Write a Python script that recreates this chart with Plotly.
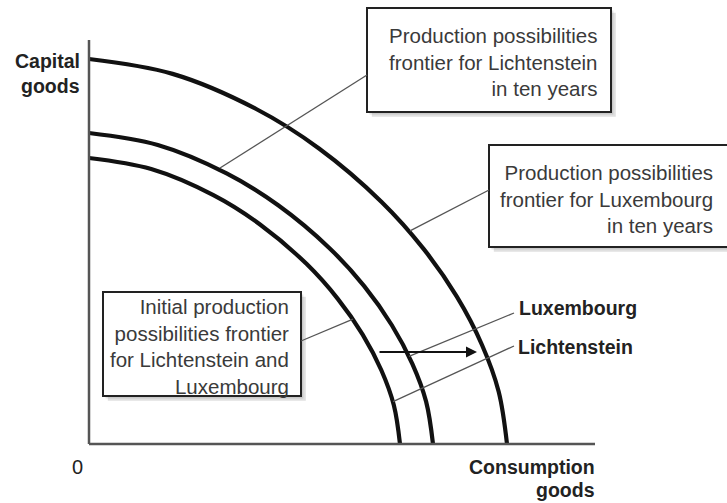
import plotly.graph_objects as go

# Production possibilities frontiers (consumption goods, capital goods), arbitrary units
initial_x = [0, 15.55, 31.1, 42.76, 54.43, 62.2, 68.42, 73.09, 76.2, 77.75]
initial_y = [71.5, 68.74, 62.21, 54.89, 44.97, 36.29, 27.36, 18.44, 9.75, 0]

lich10_x = [0, 17.2, 34.4, 47.3, 60.2, 68.8, 75.68, 80.84, 84.28, 86]
lich10_y = [77.75, 74.75, 67.65, 59.69, 48.9, 39.46, 29.75, 20.05, 10.6, 0]

lux10_x = [0, 20.9, 41.8, 57.5, 73.15, 83.6, 91.96, 98.23, 102.41, 104.5]
lux10_y = [96.25, 92.53, 83.75, 73.89, 60.53, 48.85, 36.83, 24.82, 13.13, 0]

axis_x_max = 126.5
axis_y_max = 101

box_texts = [
    "Production possibilities<br>frontier for Lichtenstein<br>in ten years",
    "Production possibilities<br>frontier for Luxembourg<br>in ten years",
    "Initial production<br>possibilities frontier<br>for Lichtenstein and<br>Luxembourg",
]
point_labels = ["Luxembourg", "Lichtenstein"]

CURVE = dict(color="#111111", width=4.2)
TXT = "#3a3a3a"
FONT = "Liberation Sans, Arial, Helvetica, sans-serif"

fig = go.Figure()
for xs, ys, name in [(initial_x, initial_y, "Initial"),
                     (lich10_x, lich10_y, "Lichtenstein in ten years"),
                     (lux10_x, lux10_y, "Luxembourg in ten years")]:
    fig.add_trace(go.Scatter(x=xs, y=ys, mode="lines", name=name,
                             line=dict(shape="spline", smoothing=1.0, **CURVE),
                             hoverinfo="skip", showlegend=False))

shapes = []
# axes
shapes.append(dict(type="line", x0=0, y0=0, x1=0, y1=axis_y_max,
                   line=dict(color="#555555", width=2.5)))
shapes.append(dict(type="line", x0=0, y0=0, x1=axis_x_max, y1=0,
                   line=dict(color="#555555", width=2.5)))

# boxes with shadows
boxes = [(69.5, 83, 130.5, 109), (100, 49.25, 162.75, 74.75), (3.5, 12, 53, 38)]
for x0, y0, x1, y1 in boxes:
    shapes.append(dict(type="rect", x0=x0 + 1.2, y0=y0 - 1.2, x1=x1 + 1.2, y1=y1 - 1.2,
                       fillcolor="rgba(0,0,0,0.12)", line=dict(width=0), layer="below"))
    shapes.append(dict(type="rect", x0=x0 + 0.6, y0=y0 - 0.6, x1=x1 + 0.6, y1=y1 - 0.6,
                       fillcolor="rgba(0,0,0,0.10)", line=dict(width=0), layer="below"))
    shapes.append(dict(type="rect", x0=x0, y0=y0, x1=x1, y1=y1,
                       fillcolor="white", line=dict(color="#222222", width=2), layer="below"))

# leader lines
leaders = [((69.5, 92.25), (32.75, 69.0)),
           ((100, 63.5), (80.25, 53.3)),
           ((53, 25.75), (66, 31.2)),
           ((106.25, 32.75), (80, 21.9)),
           ((106.25, 24.5), (76, 10.6))]
for (xa, ya), (xb, yb) in leaders:
    shapes.append(dict(type="line", x0=xa, y0=ya, x1=xb, y1=yb,
                       line=dict(color="#555555", width=1.3)))

annotations = []
# box texts
for (x, y), t in zip([(127.75, 95.6), (156.5, 61.3), (50.5, 24.5)], box_texts):
    annotations.append(dict(x=x, y=y, text=t, showarrow=False, xanchor="right",
                            yanchor="middle", align="right",
                            font=dict(family=FONT, size=20.5, color=TXT)))
# point labels
for (x, y), t in zip([(107, 34), (106.75, 24.25)], point_labels):
    annotations.append(dict(x=x, y=y, text=t, showarrow=False, xanchor="left",
                            yanchor="middle",
                            font=dict(family=FONT, size=19.5, color="#222222", weight="bold")))
# axis titles
for x, y, t, anc in [(-1.75, 95.75, "Capital", "right"), (-1.75, 89.5, "goods", "right"),
                     (127, -5.75, "Consumption", "right"), (127, -11.5, "goods", "right")]:
    annotations.append(dict(x=x, y=y, text=t, showarrow=False, xanchor=anc,
                            yanchor="middle",
                            font=dict(family=FONT, size=19.5, color="#222222", weight="bold")))
annotations.append(dict(x=-3, y=-5.75, text="0", showarrow=False, xanchor="center",
                        yanchor="middle", font=dict(family=FONT, size=20, color="#222222")))
# shift arrow
annotations.append(dict(x=97, y=23, ax=72.25, ay=23, axref="x", ayref="y", xref="x", yref="y",
                        text="", showarrow=True, arrowhead=2, arrowsize=1, arrowwidth=2.2,
                        arrowcolor="#111111"))

fig.update_layout(
    width=727, height=503,
    margin=dict(l=0, r=0, t=0, b=0),
    paper_bgcolor="white", plot_bgcolor="white",
    xaxis=dict(range=[-22.25, 159.5], visible=False, fixedrange=True),
    yaxis=dict(range=[-14.75, 111], visible=False, fixedrange=True),
    shapes=shapes, annotations=annotations, showlegend=False,
)
fig.write_html("out.html", config={"displayModeBar": False},
               post_script="document.body.style.margin='0';document.body.style.overflow='hidden';")
